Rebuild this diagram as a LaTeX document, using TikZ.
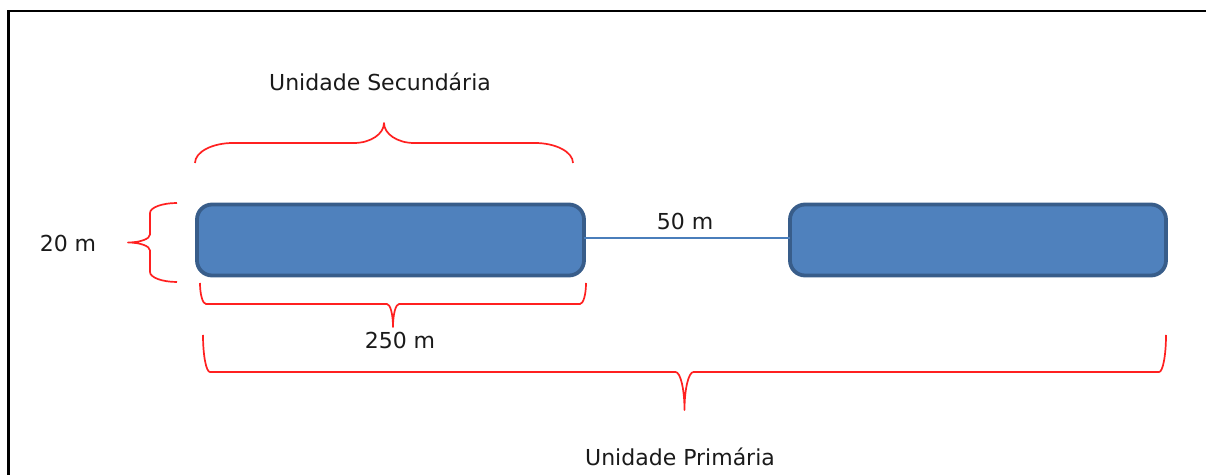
\documentclass[tikz,border=0pt]{standalone}
\usepackage{fontspec}
\setmainfont{DejaVu Sans}
\definecolor{boxfill}{HTML}{4F81BD}
\definecolor{boxline}{HTML}{385D8A}
\definecolor{linkblue}{HTML}{4A7EBB}
\definecolor{bracered}{HTML}{FF2020}
\definecolor{labeltext}{HTML}{1A1A1A}
\tikzset{
  plot/.style={draw=boxline, fill=boxfill, line width=1.9pt, rounded corners=7.5pt,
    minimum height=35.5pt, outer sep=0pt, inner sep=0pt},
  brace/.style={draw=bracered, line width=0.85pt, line join=round},
  dimlabel/.style={text=labeltext, font=\fontsize{11}{13}\selectfont, inner sep=0pt},
  link/.style={draw=linkblue, line width=0.6pt},
  frame/.style={draw=black, line width=1.3pt}
}
% horizontal curly brace: x1, x2, y of the ends, y of the bar, y of the tip, corner size, tip size
\newcommand{\hcurly}[7]{%
  \draw[brace] (#1,#3)
    .. controls (#1,{#3+0.55*(#4-#3)}) and ({#1+0.45*#6},#4) .. ({#1+#6},#4)
    -- ({(#1+#2)/2-#7},#4)
    .. controls ({(#1+#2)/2-0.45*#7},#4) and ({(#1+#2)/2},{#4+0.45*(#5-#4)}) .. ({(#1+#2)/2},#5)
    .. controls ({(#1+#2)/2},{#4+0.45*(#5-#4)}) and ({(#1+#2)/2+0.45*#7},#4) .. ({(#1+#2)/2+#7},#4)
    -- ({#2-#6},#4)
    .. controls ({#2-0.45*#6},#4) and (#2,{#3+0.55*(#4-#3)}) .. (#2,#3);}
% vertical curly brace: y1, y2, x of the ends, x of the bar, x of the tip, corner size, tip size
\newcommand{\vcurly}[7]{%
  \draw[brace] (#3,#1)
    .. controls ({#3+0.55*(#4-#3)},#1) and (#4,{#1+0.45*#6}) .. (#4,{#1+#6})
    -- (#4,{(#1+#2)/2-#7})
    .. controls (#4,{(#1+#2)/2-0.45*#7}) and ({#4+0.45*(#5-#4)},{(#1+#2)/2}) .. (#5,{(#1+#2)/2})
    .. controls ({#4+0.45*(#5-#4)},{(#1+#2)/2}) and (#4,{(#1+#2)/2+0.45*#7}) .. (#4,{(#1+#2)/2+#7})
    -- (#4,{#2-#6})
    .. controls (#4,{#2-0.45*#6}) and ({#3+0.55*(#4-#3)},#2) .. (#3,#2);}
\begin{document}
\begin{tikzpicture}[x=0.5pt, y=-0.5pt]
  \useasboundingbox (0,0) rectangle (1206,475);
  % outer frame (top and left edges)
  \draw[frame] (1206,11) -- (8.5,11) -- (8.5,475);

  % the two secondary plots
  \node[plot, minimum width=193.5pt] (left) at (390.5,240) {};
  \node[plot, minimum width=188pt] (right) at (978,240) {};
  \draw[link] ([yshift=1pt]left.east) -- ([yshift=1pt]right.west);
  \node[dimlabel] (gap) at (685,221) {50 m};

  % secondary unit brace
  \hcurly{195}{573}{163}{143}{123}{38}{30}
  \node[dimlabel] (secondary) at (380,82) {Unidade Secundária};

  % width of a plot
  \vcurly{203}{282}{177}{150}{128}{10}{8}
  \node[dimlabel] (width) at (68,243) {20 m};

  % length of a plot
  \hcurly{200}{586}{283}{304}{327}{6}{6}
  \node[dimlabel] (length) at (400,340) {250 m};

  % primary unit brace
  \hcurly{203}{1166}{335}{372}{410}{7}{9}
  \node[dimlabel] (primary) at (680,457) {Unidade Primária};
\end{tikzpicture}
\end{document}
